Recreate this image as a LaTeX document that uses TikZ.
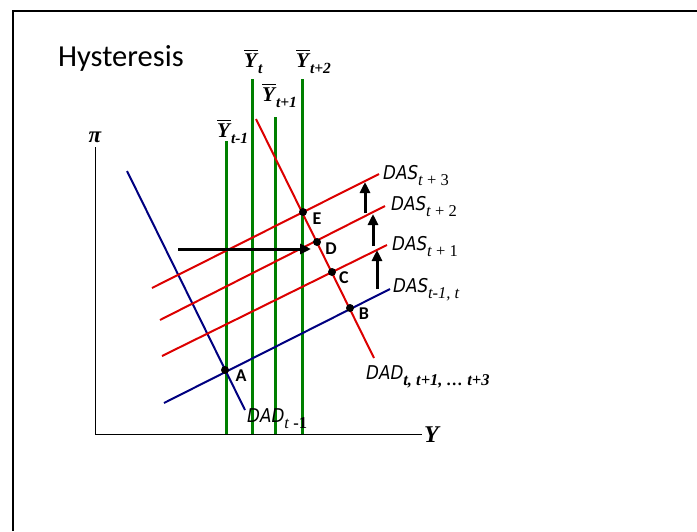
\documentclass[tikz,border=0pt]{standalone}
\usepackage{fontspec}
\setmainfont{Liberation Serif}
\newfontfamily\calfont{Carlito}
\newfontfamily\dasfont{DejaVu Sans}[FakeStretch=0.88]
\usetikzlibrary{arrows.meta}
\definecolor{dgreen}{RGB}{0,128,0}
\definecolor{dred}{RGB}{220,0,0}
\definecolor{dblue}{RGB}{0,0,128}
\newcommand\dlab[2]{{\dasfont\itshape\fontsize{19}{19}\selectfont #1}\raisebox{-6pt}{\fontsize{16.5}{16.5}\selectfont #2}}
\newcommand\ybar[1]{{\bfseries\itshape\fontsize{21}{21}\selectfont\vbox{\hrule height 1.5pt\kern1.8pt\hbox{Y\kern1pt}}}\raisebox{-6pt}{\bfseries\itshape\fontsize{15.5}{15.5}\selectfont #1}}
\begin{document}
\begin{tikzpicture}[x=1pt,y=-1pt,
  frame/.style={line width=2pt},
  axis/.style={line width=0.9pt},
  gline/.style={draw=dgreen,line width=3pt},
  rline/.style={draw=dred,line width=2pt},
  bline/.style={draw=dblue,line width=2pt},
  dot/.style={circle,fill=black,inner sep=0pt,minimum size=8pt},
  ptlab/.style={font=\calfont\bfseries\fontsize{18}{18}\selectfont,inner sep=0pt},
  arr/.style={line width=3pt,-{Triangle[length=11pt,width=10pt]}},
  lab/.style={inner sep=0pt,anchor=base west}]
\useasboundingbox (0,0) rectangle (697,531);
% frame
\coordinate (f1) at (13,531); \coordinate (f2) at (13,11); \coordinate (f3) at (697,11);
\draw[frame] (f1) -- (f2) -- (f3);
% title
\node[inner sep=0pt,anchor=base west,font=\calfont\fontsize{30.5}{30.5}\selectfont] (title) at (58,66) {Hysteresis};
% axes
\coordinate (ytop) at (95,147); \coordinate (orig) at (95,434); \coordinate (xend) at (422,434);
\draw[axis] (ytop) -- (orig) -- (xend);
\node[font=\bfseries\itshape\fontsize{23}{23}\selectfont,inner sep=0pt] (pilab) at (95,137) {π};
\node[font=\bfseries\itshape\fontsize{24}{24}\selectfont,inner sep=0pt,anchor=west] (ylab) at (424,435) {Y};
% green verticals
\coordinate (g1t) at (226,141); \coordinate (g1b) at (226,434);
\coordinate (g2t) at (252,79);  \coordinate (g2b) at (252,434);
\coordinate (g3t) at (275,117); \coordinate (g3b) at (275,434);
\coordinate (g4t) at (302,79);  \coordinate (g4b) at (302,434);
\draw[gline] (g1t) -- (g1b);
\draw[gline] (g2t) -- (g2b);
\draw[gline] (g3t) -- (g3b);
\draw[gline] (g4t) -- (g4b);
\node[lab] (yb1) at (217,137) {\ybar{t-1}};
\node[lab] (yb2) at (244,67) {\ybar{t}};
\node[lab] (yb3) at (262,101) {\ybar{t+1}};
\node[lab] (yb4) at (296,67) {\ybar{t+2}};
% blue lines
\coordinate (bd1) at (127,171); \coordinate (bd2) at (245,410);
\coordinate (bs1) at (164,403); \coordinate (bs2) at (390,289);
\draw[bline] (bd1) -- (bd2);
\draw[bline] (bs1) -- (bs2);
% red lines
\coordinate (rd1) at (256,119); \coordinate (rd2) at (374,358);
\coordinate (r11) at (162,356); \coordinate (r12) at (387,245);
\coordinate (r21) at (160,320); \coordinate (r22) at (385,206);
\coordinate (r31) at (152,288); \coordinate (r32) at (379,174);
\draw[rline] (rd1) -- (rd2);
\draw[rline] (r11) -- (r12);
\draw[rline] (r21) -- (r22);
\draw[rline] (r31) -- (r32);
% curve labels
\node[lab] (das3) at (383,179) {\dlab{DAS}{\textit{t} + 3}};
\node[lab] (das2) at (391,210) {\dlab{DAS}{\textit{t} + 2}};
\node[lab] (das1) at (392,250) {\dlab{DAS}{\textit{t} + 1}};
\node[lab] (das0) at (393,292) {\dlab{DAS}{\textit{t-1, t}}};
\node[lab] (dad1) at (366,379) {\dlab{DAD}{\bfseries\itshape t, t+1, \dots\ t+3}};
\node[lab] (dad0) at (247,422) {\dlab{DAD}{\textit{t} \textbf{-1}}};
% arrows
\coordinate (h1) at (178,249); \coordinate (h2) at (311,249);
\draw[arr] (h1) -- (h2);
\coordinate (v1a) at (365,213); \coordinate (v1b) at (365,182);
\coordinate (v2a) at (373,246); \coordinate (v2b) at (373,214);
\coordinate (v3a) at (377,289); \coordinate (v3b) at (377,250);
\draw[arr] (v1a) -- (v1b);
\draw[arr] (v2a) -- (v2b);
\draw[arr] (v3a) -- (v3b);
% points
\node[dot] (A) at (225,370) {};
\node[dot] (B) at (350,308) {};
\node[dot] (C) at (332,272) {};
\node[dot] (D) at (317,242) {};
\node[dot] (E) at (303,212) {};
\node[ptlab] (Al) at (241,376) {A};
\node[ptlab] (Bl) at (364,314) {B};
\node[ptlab] (Cl) at (344,278) {C};
\node[ptlab] (Dl) at (331,249) {D};
\node[ptlab] (El) at (317,219) {E};
\end{tikzpicture}
\end{document}
